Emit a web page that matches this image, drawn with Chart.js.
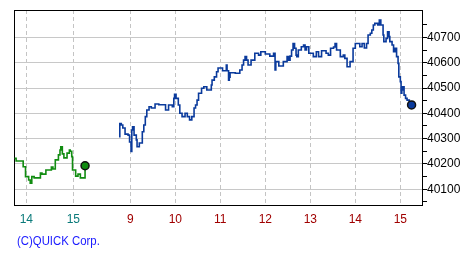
<!DOCTYPE html>
<html>
<head>
<meta charset="utf-8">
<script src="https://cdn.jsdelivr.net/npm/chart.js@4.4.1/dist/chart.umd.min.js"></script>
<style>
    body { margin: 0; background: #fff; }
    #wrap { position: relative; width: 475px; height: 260px; }
    #copy {
        position: absolute; left: 17px; top: 233px;
        font: 13px "Liberation Sans", sans-serif;
        color: #1a1aff;
        transform: scaleX(0.875);
        transform-origin: left top;
        white-space: nowrap;
    }
</style>
</head>
<body>
<div id="wrap">
    <canvas id="chart" width="475" height="260"></canvas>
    <div id="copy">(C)QUICK Corp.</div>
</div>
<script>
// previous session (13:45 - 15:15)
const prevTimes = ['13:45','13:47','13:52','13:56','13:59','14:03','14:05','14:07','14:10','14:14',
    '14:18','14:20','14:25','14:32','14:34','14:37','14:41','14:43','14:44','14:46',
    '14:48','14:52','14:55','14:56','14:58','14:59','15:03','15:06','15:09','15:12','15:15'];
const prevValues = [40222,40212,40212,40189,40150,40137,40124,40150,40145,40145,
    40164,40160,40176,40188,40180,40216,40236,40255,40268,40240,
    40224,40243,40255,40250,40229,40176,40152,40160,40145,40145,40193];

// today (8:45 - 15:15)
const todayTimes = ['8:45','8:46','8:48','8:50','8:53','8:57','8:59','9:01','9:02','9:03',
    '9:05','9:08','9:09','9:12','9:16','9:18','9:20','9:22','9:25','9:28',
    '9:33','9:38','9:47','9:51','9:56','9:58','9:59','10:01','10:04','10:06',
    '10:09','10:13','10:16','10:19','10:22','10:25','10:27','10:29','10:31','10:35',
    '10:38','10:42','10:48','10:49','10:52','10:55','10:57','11:03','11:08','11:09',
    '11:11','11:12','11:13','11:20','11:26','11:29','11:31','11:33','11:35','11:37',
    '11:41','11:46','11:51','11:54','12:00','12:06','12:11','12:13','12:14','12:18',
    '12:24','12:29','12:31','12:33','12:35','12:37','12:39','12:41','12:42','12:44',
    '12:48','12:51','12:53','12:55','12:58','13:02','13:04','13:08','13:11','13:15',
    '13:21','13:24','13:27','13:31','13:33','13:35','13:40','13:44','13:46','13:49',
    '13:53','13:57','14:00','14:04','14:06','14:09','14:12','14:15','14:17','14:20',
    '14:22','14:24','14:26','14:30','14:32','14:34','14:37','14:38','14:41','14:43',
    '14:45','14:46','14:49','14:51','14:53','14:55','14:57','14:58','15:00','15:01',
    '15:02','15:03','15:05','15:07','15:09','15:12','15:15'];
const todayValues = [40308,40360,40354,40342,40318,40314,40287,40249,40334,40347,
    40314,40295,40268,40283,40327,40354,40387,40413,40426,40421,
    40437,40434,40413,40433,40426,40459,40475,40459,40433,40400,
    40387,40400,40387,40374,40387,40421,40433,40452,40479,40499,
    40505,40492,40512,40531,40544,40564,40579,40568,40591,40568,
    40531,40543,40560,40558,40571,40591,40610,40624,40610,40591,
    40610,40637,40630,40643,40634,40626,40637,40571,40604,40587,
    40604,40624,40610,40626,40650,40676,40657,40630,40624,40650,
    40663,40670,40650,40663,40637,40637,40624,40643,40624,40647,
    40637,40630,40657,40662,40676,40650,40624,40630,40617,40584,
    40604,40657,40676,40676,40663,40676,40658,40676,40709,40716,
    40729,40749,40755,40749,40768,40749,40709,40683,40696,40722,
    40703,40683,40670,40643,40657,40624,40597,40544,40525,40479,
    40492,40505,40472,40459,40452,40446,40433];

const prevTickHours = [14, 15];
const todayTickHours = [9, 10, 11, 12, 13, 14, 15];
const yMin = 40038;
const yMax = 40808;

// previous session is squeezed in to the left of today's session
const PREV_AT_14 = 6.689;
const PREV_SCALE = 1.0444;
const X_MIN = 6.4156;
const X_MAX = 15.504;

function toHours(t) {
    const [h, m] = t.split(':').map(Number);
    return h + m / 60;
}
function prevAxis(h) {
    return PREV_AT_14 + (h - 14) * PREV_SCALE;
}

const prevData = prevTimes.map((t, i) => ({ x: prevAxis(toHours(t)), y: prevValues[i] }));
const todayData = todayTimes.map((t, i) => ({ x: toHours(t), y: todayValues[i] }));

const xTickValues = prevTickHours.map(prevAxis).concat(todayTickHours);
const xTickLabels = prevTickHours.concat(todayTickHours).map(String);

const yTickValues = [];
for (let v = 40050; v <= 40750; v += 50) yTickValues.push(v);

const FONT = { family: '"Liberation Sans", sans-serif', size: 12 };

const lastPoint = (ctx) => ctx.dataIndex === ctx.dataset.data.length - 1 ? 4 : 0;

const framePlugin = {
    id: 'frame',
    beforeDatasetsDraw(chart) {
        const a = chart.chartArea;
        const c = chart.ctx;
        c.save();
        c.strokeStyle = '#000';
        c.lineWidth = 1;
        c.strokeRect(Math.round(a.left) + 0.5, Math.round(a.top) + 0.5,
            Math.round(a.right - a.left) - 1, Math.round(a.bottom - a.top));
        c.restore();
    }
};

new Chart(document.getElementById('chart'), {
    type: 'line',
    data: {
        datasets: [
            {
                data: prevData,
                borderColor: '#118c11',
                borderWidth: 1.6,
                stepped: true,
                pointRadius: lastPoint,
                pointBackgroundColor: '#118c11',
                pointBorderColor: '#111',
                pointBorderWidth: 1.5
            },
            {
                data: todayData,
                borderColor: '#0a3a9c',
                borderWidth: 1.6,
                stepped: true,
                pointRadius: lastPoint,
                pointBackgroundColor: '#0a3a9c',
                pointBorderColor: '#111',
                pointBorderWidth: 1.5
            }
        ]
    },
    options: {
        responsive: false,
        animation: false,
        devicePixelRatio: 1,
        layout: { padding: { left: 14, top: 10, right: 0, bottom: 0 } },
        plugins: { legend: { display: false }, tooltip: { enabled: false } },
        scales: {
            x: {
                type: 'linear',
                min: X_MIN,
                max: X_MAX,
                afterBuildTicks: (scale) => { scale.ticks = xTickValues.map(v => ({ value: v })); },
                afterFit: (scale) => { scale.height = 55; },
                grid: { color: '#c4c4c4', drawTicks: false },
                border: { display: false, dash: [4, 3] },
                ticks: {
                    autoSkip: false,
                    maxRotation: 0,
                    padding: 7,
                    font: FONT,
                    color: (ctx) => ctx.index < prevTickHours.length ? '#0a7a7a' : '#a00000',
                    callback: (value, index) => xTickLabels[index]
                }
            },
            y: {
                position: 'right',
                min: yMin,
                max: yMax,
                afterBuildTicks: (scale) => { scale.ticks = yTickValues.map(v => ({ value: v })); },
                afterFit: (scale) => { scale.width = 52; },
                grid: {
                    color: (ctx) => ctx.tick && ctx.tick.value % 100 === 0 ? '#c8c8c8' : 'rgba(0,0,0,0)',
                    tickColor: '#000',
                    tickLength: 4
                },
                border: { display: false },
                ticks: {
                    autoSkip: false,
                    padding: 0,
                    font: FONT,
                    color: '#000',
                    callback: (value) => value % 100 === 0 ? String(value) : ''
                }
            }
        }
    },
    plugins: [framePlugin]
});
</script>
</body>
</html>
